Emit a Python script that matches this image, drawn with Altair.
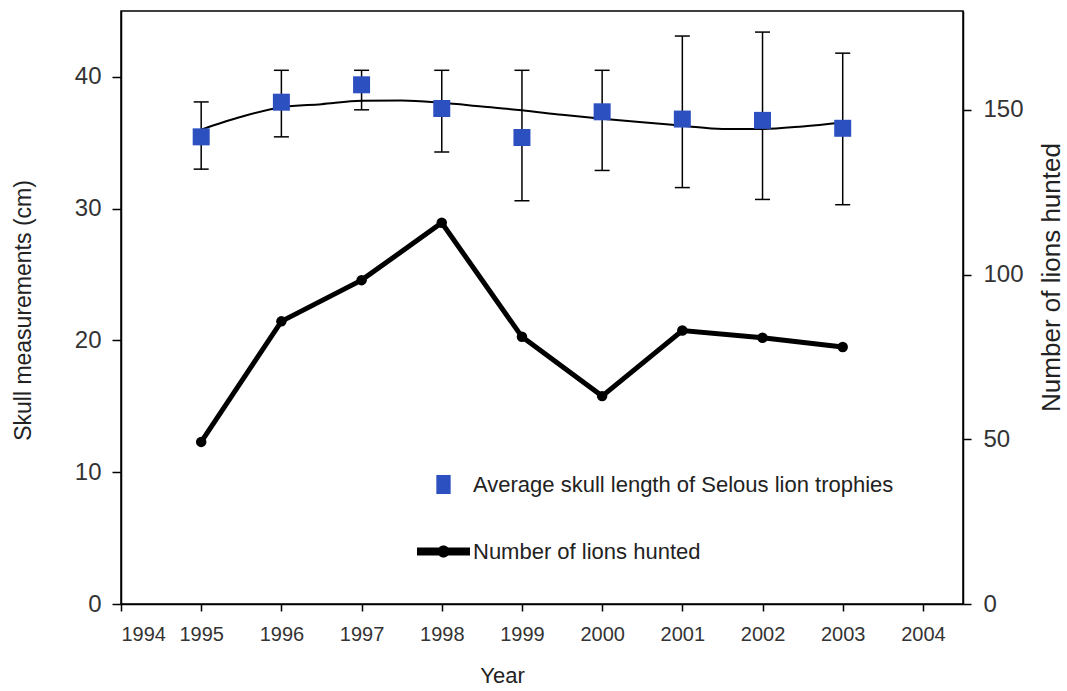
import altair as alt
import pandas as pd

# ---- data ----
years = [1995, 1996, 1997, 1998, 1999, 2000, 2001, 2002, 2003]
skull_mean = [35.45, 38.08, 39.4, 37.6, 35.4, 37.35, 36.8, 36.7, 36.1]
skull_hi = [38.1, 40.5, 40.5, 40.5, 40.5, 40.5, 43.1, 43.4, 41.8]
skull_lo = [33.0, 35.45, 37.5, 34.3, 30.6, 32.9, 31.6, 30.7, 30.3]
lions = [49.2, 85.8, 98.3, 115.7, 81.1, 63.1, 83.0, 80.8, 78.0]
trend_x = [1995, 1995.5, 1996, 1996.5, 1997, 1997.5, 1998, 1998.5, 1999,
           1999.5, 2000, 2000.5, 2001, 2001.5, 2002, 2002.5, 2003]
trend_y = [36.0, 36.97, 37.7, 37.93, 38.18, 38.2, 38.03, 37.75, 37.47,
           37.12, 36.82, 36.55, 36.3, 36.05, 36.05, 36.24, 36.54]
x_ticks = [1994, 1995, 1996, 1997, 1998, 1999, 2000, 2001, 2002, 2003, 2004]
left_ticks = [0, 10, 20, 30, 40]
right_ticks = [0, 50, 100, 150]
series_names = ["Average skull length of Selous lion trophies", "Number of lions hunted"]

FONT = "Liberation Sans"
BLUE = "#2c50c0"

skull_df = pd.DataFrame({"year": years, "mean": skull_mean, "hi": skull_hi, "lo": skull_lo})
caps_df = pd.DataFrame({"year": years + years, "cap": skull_lo + skull_hi})
trend_df = pd.DataFrame({"year": trend_x, "trend": trend_y})
lions_df = pd.DataFrame({"year": years, "lions": lions})
legend_df = pd.DataFrame({"series": series_names})

x_axis = alt.Axis(values=x_ticks, format="d", title="Year", grid=False, tickSize=7,
                  labelPadding=13, labelFontSize=20, titleFontSize=22,
                  titleFontWeight="normal", titleX=381, titleY=71, titleBaseline="middle")
x_scale = alt.Scale(domain=[1994, 2004.5], nice=False, zero=False)

left_axis = alt.Axis(values=left_ticks, title="Skull measurements (cm)", grid=False,
                     tickSize=9, labelPadding=11, labelFontSize=24, titleFontSize=23,
                     titleFontWeight="normal", titleAngle=-90, titleX=-98, titleY=299,
                     titleBaseline="middle", titleAlign="center")
left_scale = alt.Scale(domain=[0, 45], nice=False, zero=True)

right_axis = alt.Axis(orient="right", values=right_ticks, title="Number of lions hunted",
                      grid=False, tickSize=8, labelPadding=12, labelFontSize=24,
                      titleFontSize=26, titleFontWeight="normal", titleAngle=-90,
                      titleX=88, titleY=266, titleBaseline="middle", titleAlign="center")
right_scale = alt.Scale(domain=[0, 180], nice=False, zero=True)

X = lambda: alt.X("year:Q", scale=x_scale, axis=x_axis)

rules = alt.Chart(skull_df).mark_rule(color="black", strokeWidth=1.5).encode(
    x=X(),
    y=alt.Y("lo:Q", scale=left_scale, axis=left_axis),
    y2="hi:Q",
)
caps = alt.Chart(caps_df).mark_tick(orient="horizontal", size=15, thickness=1.5,
                                    color="black", opacity=1).encode(
    x=X(),
    y=alt.Y("cap:Q", scale=left_scale, axis=left_axis),
)
trend = alt.Chart(trend_df).mark_line(color="black", strokeWidth=2,
                                      interpolate="monotone").encode(
    x=X(),
    y=alt.Y("trend:Q", scale=left_scale, axis=left_axis),
)
squares = alt.Chart(skull_df).mark_square(size=289, color=BLUE, opacity=1).encode(
    x=X(),
    y=alt.Y("mean:Q", scale=left_scale, axis=left_axis),
)

sq_path = "M-0.27,-0.36H0.27V0.36H-0.27Z"
line_path = ("M-1,-0.15H1V0.15H-1Z "
             "M0.23,0A0.23,0.23 0 1,1 -0.23,0A0.23,0.23 0 1,1 0.23,0Z")
legend_props = dict(title=None, orient="none", legendX=296, legendY=447,
                    symbolSize=2809, symbolStrokeWidth=0, symbolOpacity=1,
                    labelFontSize=22, labelFont=FONT, labelColor="#222",
                    labelOffset=3, rowPadding=29, labelLimit=800, padding=0)
legend_layer = alt.Chart(legend_df).mark_point(filled=True, opacity=0).encode(
    color=alt.Color("series:N", scale=alt.Scale(domain=series_names, range=[BLUE, "black"]),
                    legend=alt.Legend(**legend_props)),
    shape=alt.Shape("series:N", scale=alt.Scale(domain=series_names, range=[sq_path, line_path]),
                    legend=alt.Legend(**legend_props)),
)

skull = alt.layer(rules, caps, trend, squares, legend_layer)

lion_line = alt.Chart(lions_df).mark_line(color="black", strokeWidth=5).encode(
    x=X(),
    y=alt.Y("lions:Q", scale=right_scale, axis=right_axis),
)
lion_pts = alt.Chart(lions_df).mark_circle(size=110, color="black", opacity=1).encode(
    x=X(),
    y=alt.Y("lions:Q", scale=right_scale, axis=right_axis),
)
lion = alt.layer(lion_line, lion_pts)

chart = (
    alt.layer(skull, lion)
    .resolve_scale(y="independent")
    .properties(width=842, height=593,
                padding={"left": 121, "top": 11, "right": 104, "bottom": 87},
                autosize=alt.AutoSizeParams(type="none"),
                background="white")
    .configure_view(stroke="black", strokeWidth=1.5)
    .configure_axis(domainColor="black", domainWidth=1.5, tickColor="black", tickWidth=1.5,
                    labelColor="#333", labelFont=FONT, titleFont=FONT, titleColor="#222")
)

chart.save("out.html", embed_options={"renderer": "svg", "actions": False})
